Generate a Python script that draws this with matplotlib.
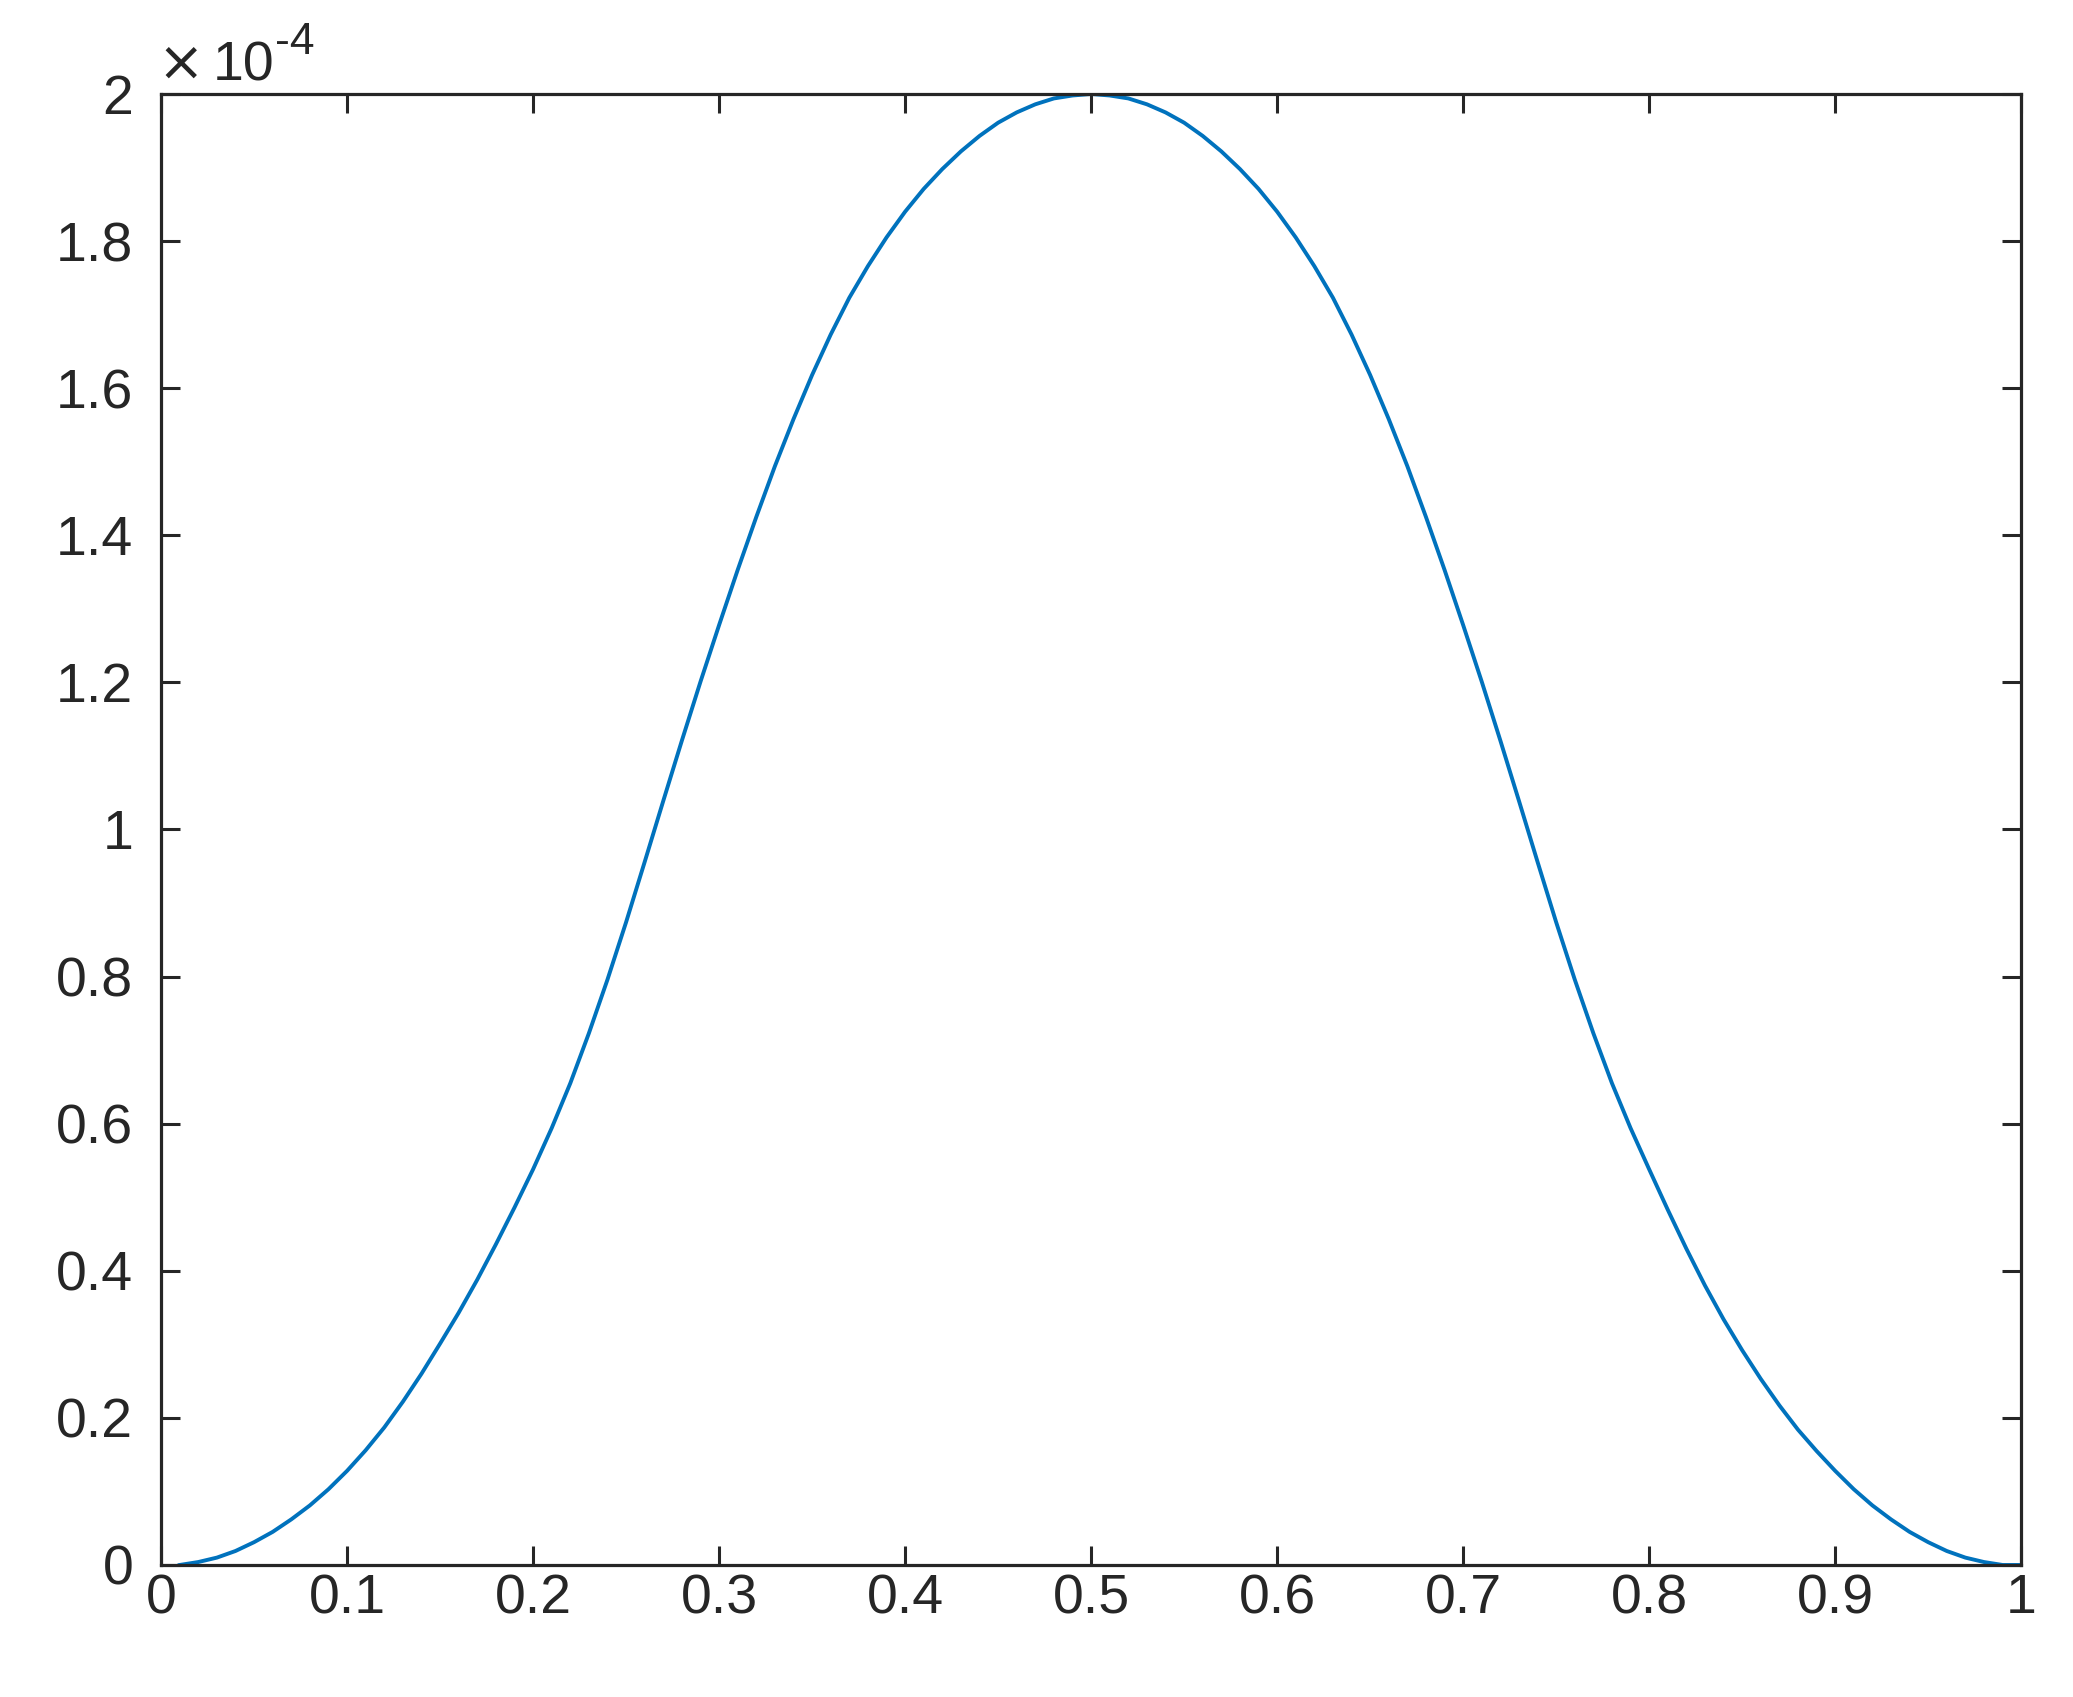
import matplotlib
matplotlib.use('Agg')
import matplotlib.pyplot as plt
import numpy as np

# values (y in units of 1e-4)
x_left = [0.01, 0.02, 0.03, 0.04, 0.05, 0.06, 0.07, 0.08, 0.09, 0.10,
          0.11, 0.12, 0.13, 0.14, 0.15, 0.16, 0.17, 0.18, 0.19, 0.20,
          0.21, 0.22, 0.23, 0.24, 0.25, 0.26, 0.27, 0.28, 0.29, 0.30,
          0.31, 0.32, 0.33, 0.34, 0.35, 0.36, 0.37, 0.38, 0.39, 0.40,
          0.41, 0.42, 0.43, 0.44, 0.45, 0.46, 0.47, 0.48, 0.49, 0.50]
y_left = [0, 0.004, 0.010, 0.019, 0.031, 0.045, 0.062, 0.081, 0.103, 0.128,
          0.156, 0.187, 0.222, 0.26, 0.301, 0.343, 0.388, 0.436, 0.486, 0.538,
          0.594, 0.655, 0.723, 0.796, 0.874, 0.956, 1.039, 1.121, 1.201, 1.278,
          1.353, 1.425, 1.494, 1.558, 1.618, 1.673, 1.723, 1.766, 1.805, 1.84,
          1.871, 1.898, 1.922, 1.943, 1.961, 1.975, 1.986, 1.994, 1.998, 2.0]
x_right = [0.51, 0.52, 0.53, 0.54, 0.55, 0.56, 0.57, 0.58, 0.59, 0.60,
           0.61, 0.62, 0.63, 0.64, 0.65, 0.66, 0.67, 0.68, 0.69, 0.70,
           0.71, 0.72, 0.73, 0.74, 0.75, 0.76, 0.77, 0.78, 0.79, 0.80,
           0.81, 0.82, 0.83, 0.84, 0.85, 0.86, 0.87, 0.88, 0.89, 0.90,
           0.91, 0.92, 0.93, 0.94, 0.95, 0.96, 0.97, 0.98, 0.99, 1.00]
y_right = [1.998, 1.994, 1.986, 1.975, 1.961, 1.943, 1.922, 1.898, 1.871, 1.84,
           1.805, 1.766, 1.723, 1.673, 1.618, 1.558, 1.494, 1.425, 1.353, 1.278,
           1.201, 1.121, 1.039, 0.956, 0.874, 0.796, 0.723, 0.655, 0.594, 0.538,
           0.483, 0.43, 0.38, 0.334, 0.292, 0.253, 0.217, 0.184, 0.155, 0.128,
           0.103, 0.081, 0.062, 0.045, 0.031, 0.019, 0.010, 0.004, 0, 0]

x_ticks = [0, 0.1, 0.2, 0.3, 0.4, 0.5, 0.6, 0.7, 0.8, 0.9, 1]
x_labels = ['0', '0.1', '0.2', '0.3', '0.4', '0.5', '0.6', '0.7', '0.8', '0.9', '1']
y_ticks = [0, 0.2, 0.4, 0.6, 0.8, 1, 1.2, 1.4, 1.6, 1.8, 2]
y_labels = ['0', '0.2', '0.4', '0.6', '0.8', '1', '1.2', '1.4', '1.6', '1.8', '2']

plt.rcParams['font.family'] = ['Liberation Sans', 'DejaVu Sans']
dark = '#262626'

fig = plt.figure(figsize=(20.73, 16.97), dpi=100)
ax = fig.add_axes([0.0777, 0.0778, 0.8973, 0.8668])

x = x_left + x_right
y = np.array(y_left + y_right) * 1e-4
ax.plot(x, y, color='#0072BD', linewidth=2.8)

ax.set_xlim(0, 1)
ax.set_ylim(0, 2e-4)
ax.set_xticks(x_ticks)
ax.set_xticklabels(x_labels)
ax.set_yticks(np.array(y_ticks) * 1e-4)
ax.set_yticklabels(y_labels)

ax.tick_params(direction='in', length=13.5, width=2.2, colors=dark,
               labelsize=40, top=True, right=True)
ax.tick_params(axis='x', pad=6)
ax.tick_params(axis='y', pad=20)
for s in ax.spines.values():
    s.set_color(dark)
    s.set_linewidth(2.3)

# exponent label like MATLAB
ax.text(-0.002, 1.0095, '\u00d7', transform=ax.transAxes, fontsize=40,
        color=dark, ha='left', va='baseline', family='DejaVu Sans')
ax.text(0.028, 1.0095, '10', transform=ax.transAxes, fontsize=40,
        color=dark, ha='left', va='baseline')
ax.text(0.061, 1.027, '-4', transform=ax.transAxes, fontsize=32,
        color=dark, ha='left', va='baseline')

fig.savefig('out.png', dpi=100)
